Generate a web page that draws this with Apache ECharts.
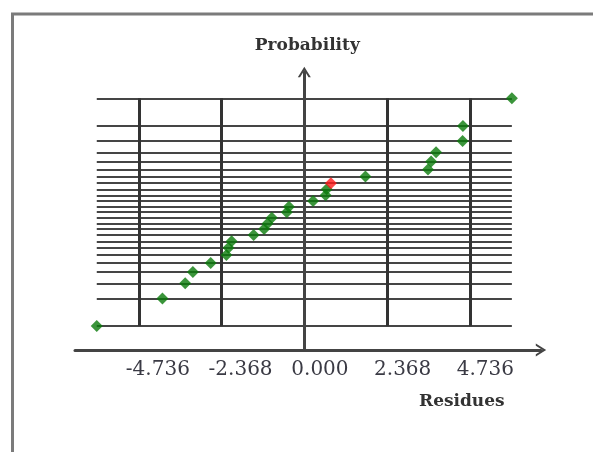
<!DOCTYPE html>
<html><head><meta charset="utf-8">
<script src="https://cdn.jsdelivr.net/npm/echarts@6/dist/echarts.min.js"></script>
<style>html,body{margin:0;padding:0;background:#fff}#c{width:593px;height:452px}</style>
</head><body><div id="c"></div>
<script>
// Residuals (sorted) and their normal scores (probability axis positions)
const residuals = [-5.94, -4.06, -3.41, -3.19, -2.68, -2.23, -2.17, -2.08, -1.45, -1.15, -1.05, -0.93, -0.50, -0.44, 0.25, 0.61, 0.64, 0.76, 1.75, 3.54, 3.63, 3.77, 4.53, 4.54, 5.94];
const normalScores = [-2.054, -1.555, -1.282, -1.080, -0.915, -0.772, -0.643, -0.524, -0.412, -0.305, -0.202, -0.100, 0, 0.100, 0.202, 0.305, 0.412, 0.524, 0.643, 0.772, 0.915, 1.080, 1.282, 1.555, 2.054];
const highlightedIndex = 17;
const tickValues = [-4.736, -2.368, 0, 2.368, 4.736];
const tickLabels = ['-4.736', '-2.368', '0.000', '2.368', '4.736'];

const rMin = Math.min(...residuals), rMax = Math.max(...residuals);
const qMin = Math.min(...normalScores), qMax = Math.max(...normalScores);
const verticalValues = tickValues.filter(t => t !== 0);
const chevron = 'path://M0,16 L10,0 L20,16 L16.5,16 L10,5.5 L3.5,16 Z';
const serif = 'DejaVu Serif';

const chart = echarts.init(document.getElementById('c'));
chart.setOption({
  animation: false,
  graphic: [{
    type: 'rect', z: -10,
    shape: { x: 12.5, y: 14, width: 700, height: 600 },
    style: { fill: 'none', stroke: '#7b7b7b', lineWidth: 3 }
  }],
  title: {
    text: 'Residues', left: 419, top: 393, padding: 0,
    textStyle: { fontFamily: serif, fontWeight: 'bold', fontSize: 17, color: '#333' }
  },
  grid: { left: 75, right: 52, top: 72, bottom: 102 },
  xAxis: {
    type: 'value', min: -6.563, max: 6.774,
    axisLine: { onZero: false, lineStyle: { color: '#444', width: 3 }, symbol: ['none', chevron], symbolSize: [13, 11] },
    axisTick: { show: false },
    splitLine: { show: false },
    axisLabel: {
      customValues: tickValues,
      formatter: v => tickLabels[tickValues.findIndex(t => Math.abs(t - v) < 1e-6)],
      align: 'left', padding: [0, 0, 0, -13], margin: 10,
      fontFamily: serif, fontSize: 20, color: '#3a3a44'
    }
  },
  yAxis: {
    type: 'value', min: -2.485, max: 2.528,
    name: 'Probability', nameLocation: 'end', nameGap: 18,
    nameTextStyle: { fontFamily: serif, fontWeight: 'bold', fontSize: 17, color: '#333', padding: [0, 0, 0, 6] },
    axisLine: { onZero: true, lineStyle: { color: '#444', width: 3 }, symbol: ['none', chevron], symbolSize: [13, 11] },
    axisTick: { show: false },
    axisLabel: { show: false },
    splitLine: { show: false }
  },
  series: [
    {
      type: 'scatter', z: 1, silent: true, data: [],
      markLine: {
        silent: true, symbol: ['none', 'none'], label: { show: false },
        lineStyle: { color: '#454545', width: 2, type: 'solid' },
        data: normalScores.map(q => [{ coord: [rMin, q] }, { coord: [rMax, q] }])
      }
    },
    {
      type: 'scatter', z: 2, silent: true, data: [],
      markLine: {
        silent: true, symbol: ['none', 'none'], label: { show: false },
        lineStyle: { color: '#333', width: 3, type: 'solid' },
        data: verticalValues.map(t => [{ coord: [t, qMin] }, { coord: [t, qMax] }])
      }
    },
    {
      type: 'scatter', z: 5,
      symbol: 'diamond', symbolSize: 12,
      itemStyle: { color: p => p.dataIndex === highlightedIndex ? '#ff1a1a' : '#0a7a0a' },
      data: residuals.map((r, i) => [r, normalScores[i]])
    }
  ]
});
</script></body></html>
